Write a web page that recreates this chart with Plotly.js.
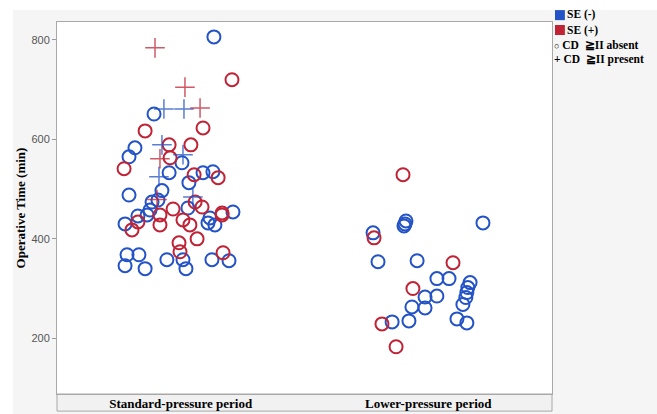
<!DOCTYPE html>
<html>
<head>
<meta charset="utf-8">
<script src="https://cdn.plot.ly/plotly-3.0.1.min.js"></script>
<style>html,body{margin:0;padding:0;background:#fff;}#chart{width:657px;height:414px;}</style>
</head>
<body>
<div id="chart"></div>
<script>
// Categories (x index 0 and 1)
const categories = ["Standard-pressure period", "Lower-pressure period"];
const yTicks = [200, 400, 600, 800];

// SE (-), CD >= II absent (blue circles): period index, jitter, minutes
const seNegAbsPeriod = [0,0,0,0,0,0,0,0,0,0,0,0,0,0,0,0,0,0,0,0,0,0,0,0,0,0,0,0,0,0,0,
                        1,1,1,1,1,1,1,1,1,1,1,1,1,1,1,1,1,1,1,1,1,1];
const seNegAbsJitter = [0.134,-0.108,-0.185,-0.209,0.005,-0.047,0.090,0.130,0.033,-0.076,-0.209,-0.092,0.029,-0.124,-0.173,0.118,0.211,-0.225,-0.136,0.110,0.138,-0.217,-0.169,-0.225,-0.144,-0.056,0.009,0.021,0.126,0.195,-0.116,
                        -0.090,-0.094,-0.098,0.221,-0.223,-0.203,-0.045,0.035,0.084,0.169,0.160,0.156,0.152,0.140,0.035,-0.013,-0.066,-0.013,0.116,0.156,-0.078,-0.146];
const seNegAbsTime = [806,651,583,565,553,533,533,535,513,497,488,478,462,458,446,442,454,430,448,432,428,368,368,346,340,358,358,340,358,356,474,
                      436,430,426,432,412,354,356,320,320,312,302,292,282,268,285,283,263,261,239,231,235,233];

// SE (+), CD >= II absent (red circles)
const sePosAbsPeriod = [0,0,0,0,0,0,0,0,0,0,0,0,0,0,0,0,0,0,0,0,0,0,0,0, 1,1,1,1,1,1];
const sePosAbsJitter = [0.207,-0.144,0.090,-0.047,0.041,-0.043,-0.229,0.054,0.151,0.058,0.086,-0.031,0.167,-0.197,-0.173,-0.084,0.009,0.037,0.167,0.066,-0.007,-0.003,0.171,-0.084,
                        -0.102,-0.219,0.100,-0.062,-0.187,-0.130];
const sePosAbsTime = [720,617,623,589,589,563,541,529,523,474,464,460,452,418,434,428,438,428,448,400,392,374,372,448,
                      529,402,352,300,229,183];

// SE (-), CD >= II present (blue crosses)
const seNegPresPeriod = [0,0,0,0,0,0];
const seNegPresJitter = [-0.068,0.013,-0.076,0.009,-0.088,0.049];
const seNegPresTime = [661,661,589,569,525,484];

// SE (+), CD >= II present (red crosses)
const sePosPresPeriod = [0,0,0,0,0];
const sePosPresJitter = [-0.104,0.017,0.078,-0.084,-0.096];
const sePosPresTime = [784,705,663,561,479];

const BLUE = "#2353c6";
const RED = "#bf2335";

function xs(period, jitter) { return period.map((p, i) => p + jitter[i]); }

const traces = [
  {x: xs(seNegAbsPeriod, seNegAbsJitter), y: seNegAbsTime, type: "scatter", mode: "markers",
   marker: {symbol: "circle-open", size: 13, color: BLUE, line: {width: 2, color: BLUE}}, showlegend: false},
  {x: xs(sePosAbsPeriod, sePosAbsJitter), y: sePosAbsTime, type: "scatter", mode: "markers",
   marker: {symbol: "circle-open", size: 13, color: RED, line: {width: 2, color: RED}}, showlegend: false},
  {x: xs(seNegPresPeriod, seNegPresJitter), y: seNegPresTime, type: "scatter", mode: "markers", opacity: 0.75,
   marker: {symbol: "cross-thin-open", size: 14, color: BLUE, line: {width: 1.5, color: BLUE}}, showlegend: false},
  {x: xs(sePosPresPeriod, sePosPresJitter), y: sePosPresTime, type: "scatter", mode: "markers", opacity: 0.75,
   marker: {symbol: "cross-thin-open", size: 14, color: RED, line: {width: 1.5, color: RED}}, showlegend: false}
];

const serif = "Liberation Serif, Times New Roman, serif";
const legendFont = {family: serif, size: 11.5, color: "#000"};
function legendRow(x, y, html) {
  return {xref: "paper", yref: "paper", x: x, y: y, xanchor: "left", yanchor: "middle",
          showarrow: false, align: "left", text: html, font: legendFont, borderpad: 0};
}
function legendKey(y0, y1, color) {
  return {type: "rect", xref: "paper", yref: "paper", x0: 1.006, x1: 1.026, y0: y0, y1: y1,
          fillcolor: color, line: {width: 0}, layer: "above"};
}

const layout = {
  width: 657, height: 414,
  margin: {l: 57, r: 105, t: 22, b: 20},
  paper_bgcolor: "#f5f5f5",
  plot_bgcolor: "#ffffff",
  showlegend: false,
  xaxis: {
    range: [-0.5, 1.5], tickvals: [0, 1], ticktext: categories.map(c => "<b>" + c + "</b>"),
    showgrid: false, zeroline: false, ticks: "", showline: true, mirror: true, linecolor: "#a8a8a8", linewidth: 1,
    tickfont: {family: serif, size: 13, color: "#000"}, ticklabelstandoff: -3, fixedrange: true
  },
  yaxis: {
    range: [88, 836], tickvals: yTicks, showgrid: false, zeroline: false,
    ticks: "outside", ticklen: 4, tickcolor: "#999", showline: true, mirror: true, linecolor: "#a8a8a8", linewidth: 1,
    tickfont: {family: "Liberation Sans, Arial, sans-serif", size: 11, color: "#555"},
    title: {text: "<b>Operative Time (min)</b>", font: {family: serif, size: 13, color: "#000"}, standoff: 2}
  },
  shapes: [
    {type: "rect", xref: "paper", yref: "paper", x0: -0.2, x1: 1.3, y0: 1.032, y1: 1.1, fillcolor: "#ffffff", line: {width: 0}, layer: "below"},
    {type: "rect", xref: "paper", yref: "paper", x0: -0.2, x1: -0.089, y0: -0.1, y1: 1.1, fillcolor: "#ffffff", line: {width: 0}, layer: "below"},
    {type: "rect", xref: "paper", yref: "paper", x0: 0, x1: 1, y0: -0.046, y1: 0, fillcolor: "#f1f1f1", line: {width: 1, color: "#a8a8a8"}, layer: "below"},
    legendKey(1.005, 1.032, BLUE),
    legendKey(0.965, 0.992, RED)
  ],
  annotations: [
    legendRow(1.028, 1.019, '<b>SE (-)</b>'),
    legendRow(1.028, 0.978, '<b>SE (+)</b>'),
    legendRow(1.003, 0.938, '<span style="font-size:9px">○</span> <b>CD  ≧II absent</b>'),
    legendRow(1.003, 0.898, '<b>+ CD  ≧II present</b>')
  ]
};

Plotly.newPlot("chart", traces, layout, {displayModeBar: false, staticPlot: true});
</script>
</body>
</html>
